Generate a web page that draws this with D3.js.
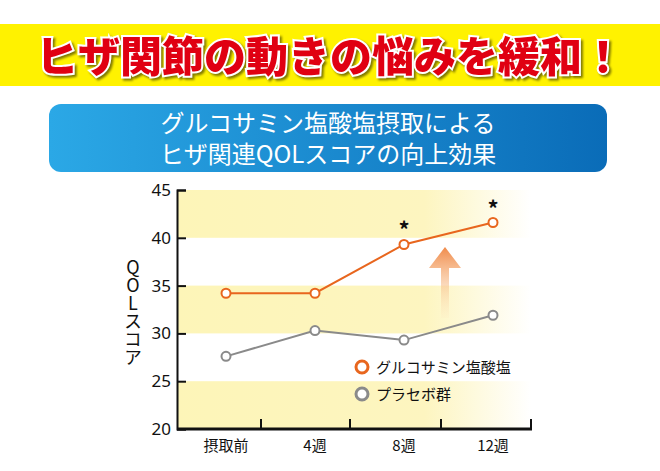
<!DOCTYPE html>
<html><head><meta charset="utf-8">
<script src="https://cdn.jsdelivr.net/npm/d3@7"></script>
<style>body{margin:0;background:#fff}svg{display:block;font-family:"Noto Sans CJK JP",sans-serif}</style>
</head><body><svg id="c" width="660" height="471"></svg>
<script>
var categories = ["摂取前", "4週", "8週", "12週"];
var glucosamine = [34.2, 34.2, 39.3, 41.6];
var placebo = [27.6, 30.3, 29.3, 31.9];
var significant = [false, false, true, true];
var yTicks = [20, 25, 30, 35, 40, 45];
var bands = [[40, 45], [30, 35], [20, 25]];

var svg = d3.select("#c");
var defs = svg.append("defs");

var bandGrad = defs.append("linearGradient").attr("id", "band");
bandGrad.append("stop").attr("offset", "0%").attr("stop-color", "#fdf5b8");
bandGrad.append("stop").attr("offset", "70%").attr("stop-color", "#fdf5c0");
bandGrad.append("stop").attr("offset", "100%").attr("stop-color", "#ffffff");

var boxGrad = defs.append("linearGradient").attr("id", "box");
boxGrad.append("stop").attr("offset", "0%").attr("stop-color", "#2ba8e6");
boxGrad.append("stop").attr("offset", "100%").attr("stop-color", "#0a6cb8");

var arrowGrad = defs.append("linearGradient").attr("id", "arrow").attr("x1", 0).attr("y1", 0).attr("x2", 0).attr("y2", 1);
arrowGrad.append("stop").attr("offset", "0%").attr("stop-color", "#f08a4a");
arrowGrad.append("stop").attr("offset", "100%").attr("stop-color", "#fde8c0").attr("stop-opacity", 0.2);

// header
svg.append("rect").attr("x", 0).attr("y", 24).attr("width", 660).attr("height", 62).attr("fill", "#fff200");
svg.append("text").attr("x", 330).attr("y", 72).attr("text-anchor", "middle")
    .attr("font-size", 42).attr("font-weight", 900).attr("fill", "#e00012")
    .attr("stroke", "#fff").attr("stroke-width", 4).attr("paint-order", "stroke")
    .style("filter", "drop-shadow(2px 2px 1px rgba(0,0,0,0.5))")
    .text("ヒザ関節の動きの悩みを緩和！");

svg.append("rect").attr("x", 49).attr("y", 104).attr("width", 558).attr("height", 68).attr("rx", 12)
    .attr("fill", "url(#box)");
svg.append("text").attr("x", 328).attr("y", 132).attr("text-anchor", "middle").attr("font-size", 24)
    .attr("fill", "#fff").text("グルコサミン塩酸塩摂取による");
svg.append("text").attr("x", 328).attr("y", 163).attr("text-anchor", "middle").attr("font-size", 24)
    .attr("fill", "#fff").text("ヒザ関連QOLスコアの向上効果");

// chart
var mLeft = 177, mRight = 531, mTop = 190, mBottom = 429;
var y = d3.scaleLinear().domain([20, 45]).range([mBottom, mTop]);
var x = d3.scalePoint().domain(categories).range([226, 493]);
var tickX = [261, 350, 441, 531];

svg.selectAll("rect.band").data(bands).enter().append("rect")
    .attr("x", mLeft).attr("width", mRight - mLeft)
    .attr("y", function(d) { return y(d[1]); })
    .attr("height", function(d) { return y(d[0]) - y(d[1]); })
    .attr("fill", "url(#band)");

var yAxis = svg.append("g").attr("transform", "translate(" + mLeft + ",0)")
    .call(d3.axisLeft(y).tickValues(yTicks).tickSize(-9).tickPadding(6));
yAxis.select(".domain").attr("stroke", "#111").attr("stroke-width", 2);
yAxis.selectAll(".tick line").attr("stroke", "#111").attr("stroke-width", 2);
yAxis.selectAll(".tick text").attr("font-size", 17).attr("fill", "#111").attr("font-family", "Noto Sans, sans-serif");

svg.append("line").attr("x1", mLeft).attr("x2", mRight + 1).attr("y1", mBottom).attr("y2", mBottom)
    .attr("stroke", "#111").attr("stroke-width", 3);
svg.selectAll("line.xt").data(tickX).enter().append("line")
    .attr("x1", function(d) { return d; }).attr("x2", function(d) { return d; })
    .attr("y1", mBottom).attr("y2", mBottom - 10).attr("stroke", "#111").attr("stroke-width", 2);
svg.selectAll("text.xl").data(categories).enter().append("text")
    .attr("x", function(d) { return x(d); }).attr("y", 451).attr("text-anchor", "middle")
    .attr("font-size", 15).attr("fill", "#111").text(function(d) { return d; });

svg.append("text").attr("x", 133).attr("y", 258)
    .style("writing-mode", "vertical-rl").style("text-orientation", "upright")
    .attr("font-size", 18).attr("fill", "#111").text("QOLスコア");

// arrow
svg.append("path").attr("d", "M441,318 L441,268 L429,268 L445,247 L461,268 L449,268 L449,318 Z")
    .attr("fill", "url(#arrow)");

var line = d3.line().x(function(d, i) { return x(categories[i]); }).y(function(d) { return y(d); });
[[placebo, "#8a8a8a"], [glucosamine, "#e8661e"]].forEach(function(s) {
    svg.append("path").datum(s[0]).attr("d", line).attr("fill", "none")
        .attr("stroke", s[1]).attr("stroke-width", 2);
    svg.selectAll(null).data(s[0]).enter().append("circle")
        .attr("cx", function(d, i) { return x(categories[i]); }).attr("cy", function(d) { return y(d); })
        .attr("r", 4.5).attr("fill", "#fff").attr("stroke", s[1]).attr("stroke-width", 2);
});
glucosamine.forEach(function(d, i) {
    if (!significant[i]) return;
    svg.append("text").attr("x", x(categories[i])).attr("y", y(d) - 6).attr("text-anchor", "middle")
        .attr("font-size", 22).attr("font-weight", "bold").attr("fill", "#111").text("*");
});

// legend
var legend = [["グルコサミン塩酸塩", "#e8661e"], ["プラセボ群", "#8a8a8a"]];
legend.forEach(function(l, i) {
    var ly = 367 + i * 27;
    svg.append("circle").attr("cx", 362).attr("cy", ly).attr("r", 6).attr("fill", "#fff")
        .attr("stroke", l[1]).attr("stroke-width", 3);
    svg.append("text").attr("x", 376).attr("y", ly + 6).attr("font-size", 15).attr("fill", "#111").text(l[0]);
});
</script></body></html>
